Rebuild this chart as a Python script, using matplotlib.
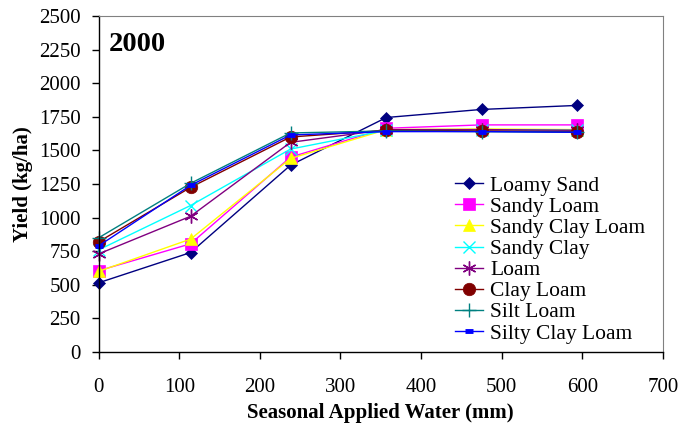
import matplotlib
matplotlib.use('Agg')
import matplotlib.pyplot as plt

plt.rcParams['font.family'] = ['Liberation Serif', 'DejaVu Serif']

water = [0, 114, 238, 357, 475, 594]

soils = ['Loamy Sand', 'Sandy Loam', 'Sandy Clay Loam', 'Sandy Clay',
         'Loam', 'Clay Loam', 'Silt Loam', 'Silty Clay Loam']

loamy_sand = [515, 740, 1390, 1745, 1805, 1835]
sandy_loam = [605, 805, 1450, 1665, 1690, 1690]
sandy_clay_loam = [600, 840, 1440, 1655, 1660, 1655]
sandy_clay = [760, 1090, 1510, 1650, 1655, 1650]
loam = [730, 1010, 1560, 1655, 1655, 1650]
clay_loam = [820, 1225, 1600, 1650, 1645, 1640]
silt_loam = [850, 1255, 1630, 1645, 1640, 1635]
silty_clay_loam = [790, 1240, 1615, 1640, 1640, 1635]

series = [loamy_sand, sandy_loam, sandy_clay_loam, sandy_clay,
          loam, clay_loam, silt_loam, silty_clay_loam]

# (color, marker, markersize, marker edge width)
styles = [
    ('#000080', 'D', 6.5, 0.5),
    ('#FF00FF', 's', 8, 0.5),
    ('#FFFF00', '^', 9, 0.5),
    ('#00FFFF', 'x', 8, 1.0),
    ('#800080', (6, 2, 0), 10, 1.0),
    ('#800000', 'o', 9, 0.5),
    ('#008080', '+', 10, 1.0),
    ('#0000FF', '_', 6, 3.5),
]

fig = plt.figure(figsize=(6.83, 4.34), dpi=100)
ax = fig.add_axes([0.1445, 0.189, 0.826, 0.774])

for name, ys, (c, m, ms, mew) in zip(soils, series, styles):
    ax.plot(water, ys, color=c, marker=m, markersize=ms, markeredgewidth=mew,
            markeredgecolor=c, markerfacecolor=c, linewidth=1.0, label=name,
            clip_on=False)

ax.set_xlim(0, 700)
ax.set_ylim(0, 2500)
ax.set_xticks(range(0, 701, 100))
ax.set_yticks(range(0, 2501, 250))
ax.tick_params(direction='out', length=5, width=1, labelsize=15, pad=8)
ax.tick_params(axis='x', pad=14)

for s in ('top', 'right'):
    ax.spines[s].set_color('#808080')
for s in ('left', 'bottom'):
    ax.spines[s].set_color('black')
    ax.spines[s].set_linewidth(1.0)

ax.set_xlabel('Seasonal Applied Water (mm)', fontsize=15, fontweight='bold')
ax.set_ylabel('Yield (kg/ha)', fontsize=15, fontweight='bold', labelpad=4)

ax.text(0.018, 0.914, '2000', transform=ax.transAxes, fontsize=20.5,
        fontweight='bold', va='center', ha='left')

ax.legend(loc='lower left', bbox_to_anchor=(0.604, -0.02), frameon=False,
          fontsize=15.5, handlelength=1.3, handletextpad=0.35,
          labelspacing=0.05, borderpad=0.2)

fig.savefig('out.png', dpi=100)
